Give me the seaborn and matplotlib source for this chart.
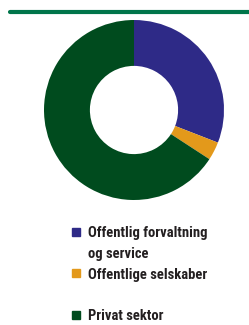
import matplotlib
matplotlib.use("Agg")
import matplotlib.pyplot as plt
import seaborn as sns
from matplotlib.lines import Line2D
from matplotlib.patches import Rectangle

sns.set_theme(style="white")
plt.rcParams['font.family'] = ['Roboto Condensed', 'Roboto', 'DejaVu Sans']

# andele (procent)
sektorer = ["Offentlig forvaltning\nog service", "Offentlige selskaber", "Privat sektor"]
andele = [30.9, 3.3, 65.8]
farver = ["#2E2A87", "#E3991B", "#004B1E"]
# legendens rækker (den tomme række giver mellemrum)
legend_raekker = [0, 2, 4]

W, H = 249, 325
fig = plt.figure(figsize=(W / 100, H / 100), dpi=100)

# grøn streg i toppen
fig.add_artist(Line2D([10 / W, 1], [1 - 12 / H, 1 - 12 / H], color="#00754A", lw=3.0,
                      transform=fig.transFigure))

cx, cy, r = 134, 110, 90
ax = fig.add_axes([(cx - r) / W, (H - cy - r) / H, 2 * r / W, 2 * r / H])
ax.pie(andele, colors=farver, startangle=90, counterclock=False, radius=1,
       wedgeprops=dict(width=0.51, edgecolor="none"))
ax.set_xlim(-1, 1)
ax.set_ylim(-1, 1)
ax.axis("off")

# legende
base0 = 237.5
step = 20.7
for navn, farve, raekke in zip(sektorer, farver, legend_raekker):
    b = base0 + raekke * step
    fig.add_artist(Rectangle((72 / W, 1 - (b - 1.5) / H), 8 / W, 8 / H, color=farve,
                             transform=fig.transFigure))
    for i, linje in enumerate(navn.split("\n")):
        fig.text(88 / W, 1 - (b + i * step) / H, linje, fontsize=10.5, fontweight="bold",
                 color="#231F20", va="baseline", ha="left")

fig.savefig("out.png", dpi=100)
